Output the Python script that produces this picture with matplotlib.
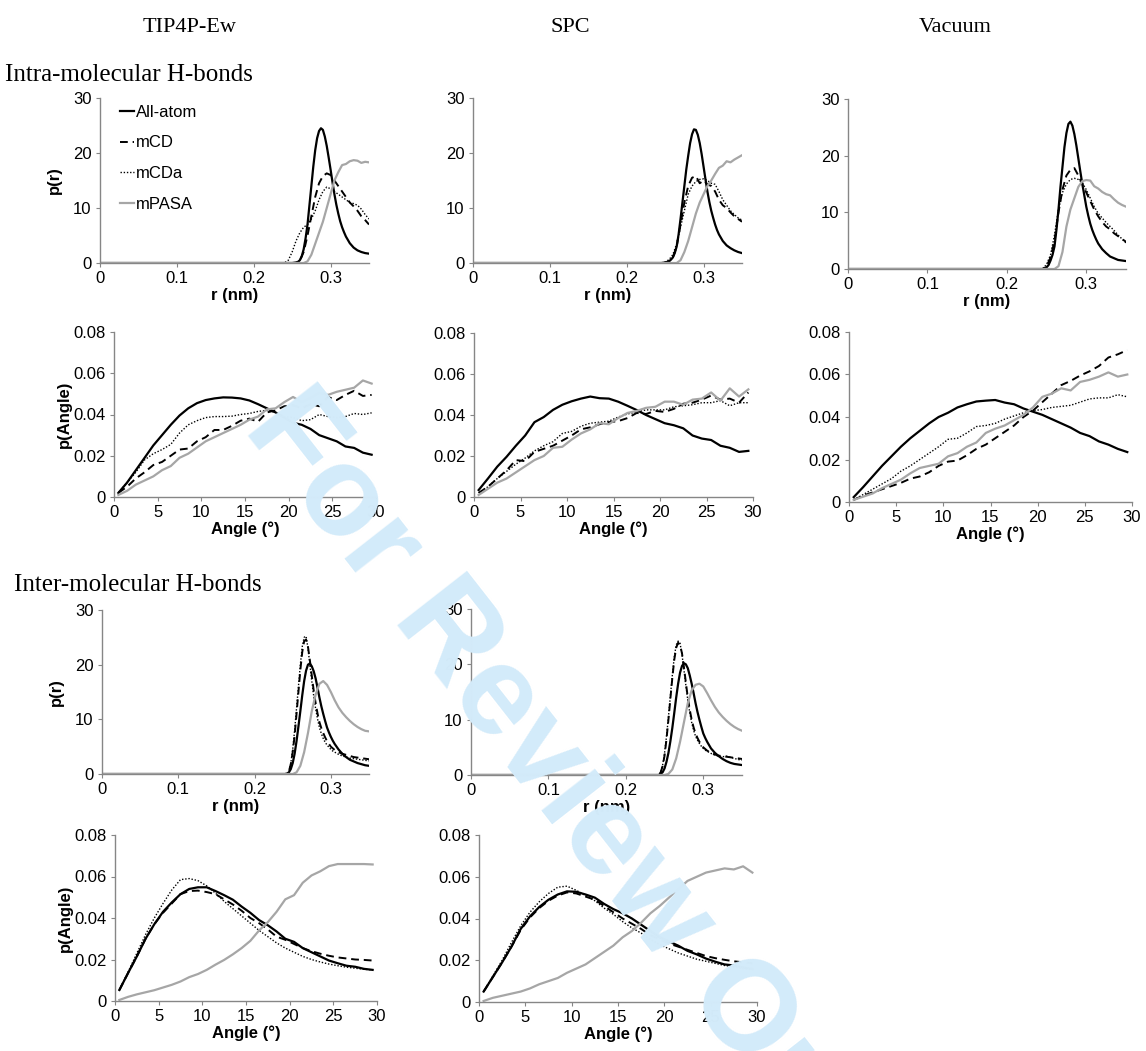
import matplotlib
matplotlib.use("Agg")
import matplotlib.pyplot as plt

plt.rcParams['font.family'] = ['Liberation Sans', 'DejaVu Sans']

# ---- x grids ----
R_NM = [0, 0.24, 0.245, 0.25, 0.255, 0.26, 0.265, 0.27, 0.275, 0.28, 0.285, 0.29,
        0.295, 0.30, 0.305, 0.31, 0.315, 0.32, 0.325, 0.33, 0.335, 0.34, 0.345, 0.35]
# finer grid for the sharp peaks
R_FINE = [0, 0.24, 0.2425, 0.245, 0.2475, 0.25, 0.2525, 0.255, 0.2575, 0.26, 0.2625, 0.265, 0.2675,
          0.27, 0.2725, 0.275, 0.2775, 0.28, 0.2825, 0.285, 0.2875, 0.29, 0.2925, 0.295, 0.2975,
          0.30, 0.3025, 0.305, 0.3075, 0.31, 0.3125, 0.315, 0.3175, 0.32,
          0.325, 0.33, 0.335, 0.34, 0.345, 0.35]
ANGLE = [0.5, 1.5, 2.5, 3.5, 4.5, 5.5, 6.5, 7.5, 8.5, 9.5, 10.5, 11.5, 12.5, 13.5, 14.5,
         15.5, 16.5, 17.5, 18.5, 19.5, 20.5, 21.5, 22.5, 23.5, 24.5, 25.5, 26.5, 27.5, 28.5, 29.5]

SERIES = ['All-atom', 'mCD', 'mCDa', 'mPASA']
COLUMNS = ['TIP4P-Ew', 'SPC', 'Vacuum']
ROWS = ['Intra-molecular H-bonds', 'Inter-molecular H-bonds']

# ---- intra-molecular, distance ----
tip_intra_r_aa = [0, 0, 0, 0, 0, 0, 0.05, 0.1, 0.2, 0.5, 1.2, 2.5, 4.5, 7, 10.5, 14, 17.5, 20.5, 22.7, 24, 24.5,
                  24.2, 23, 21.3, 19.2, 17, 14.7, 12.5, 10.6, 9, 7.6, 6.5, 5.6, 4.8, 3.6, 2.8, 2.3, 2.0, 1.8, 1.7]
tip_intra_r_mcd = [0, 0, 0, 0, 0, 0.5, 2, 5, 8.5, 12, 14.5, 15.8, 16.3, 16, 15, 14, 13, 12, 11, 10.3, 9.5, 8.5, 7.8, 7]
tip_intra_r_mcda = [0, 0, 0.5, 2, 4, 5.5, 6.5, 7, 8, 9.5, 11.5, 13, 13.8, 13.5, 13, 12.5, 12, 11.5, 11, 10.8, 10.5, 9.8, 8.8, 8]
tip_intra_r_pasa = [0, 0, 0, 0, 0, 0, 0, 0.3, 1.5, 3.5, 5.5, 7.5, 10, 12.5, 15, 16.5, 17.8, 18, 18.5, 18.7, 18.6, 18.2, 18.4, 18.3]

spc_intra_r_aa = [0, 0, 0, 0, 0.05, 0.1, 0.2, 0.3, 0.6, 1, 1.8, 3, 5.2, 8, 11, 14, 17, 19.5, 21.8, 23.4, 24.3,
                  24.2, 23.3, 21.8, 19.8, 17.5, 15.2, 13, 11.1, 9.5, 8.2, 7, 6, 5.2, 4, 3.2, 2.7, 2.3, 2.0, 1.8]
spc_intra_r_mcd = [0, 0, 0, 0, 0.3, 1, 3, 7, 11, 14, 15.5, 15.8, 14.5, 15, 14.3, 14, 13, 11.5, 10.5, 10, 9.2, 8.5, 8, 7.5]
spc_intra_r_mcda = [0, 0, 0, 0.2, 0.6, 1.5, 3.5, 6.5, 9.5, 12.5, 14, 14.8, 15.2, 15.3, 15, 14.5, 14.3, 13, 11.5, 10.5, 9.5, 8.8, 8.2, 7.8]
spc_intra_r_pasa = [0, 0, 0, 0, 0, 0, 0, 0.5, 2, 4, 6.5, 9, 11, 12.5, 14, 15, 16.2, 17.3, 17.7, 18.5, 18.3, 18.8, 19.2, 19.6]

vac_intra_r_aa = [0, 0, 0, 0, 0.1, 0.3, 0.7, 1.5, 2.5, 4, 7, 10.5, 14.5, 18, 21.5, 24, 25.6, 26, 25.3, 23.8, 21.8,
                  19.5, 17.2, 15, 13, 11, 9.4, 8, 6.9, 6, 5.2, 4.5, 4, 3.5, 2.8, 2.2, 1.9, 1.6, 1.5, 1.4]
vac_intra_r_mcd = [0, 0, 0, 0.5, 2, 5, 10, 14, 16.5, 17.5, 17.8, 16.5, 15, 13.5, 12, 10.5, 9.3, 8.3, 7.5, 7, 6.3, 5.8, 5.3, 4.8]
vac_intra_r_mcda = [0, 0, 0, 0.8, 2.5, 6, 10.5, 13.5, 15, 15.8, 16, 15.8, 15.2, 14, 12.5, 11, 9.8, 9, 8.2, 7.5, 6.8, 6, 5.3, 4.6]
vac_intra_r_pasa = [0, 0, 0, 0, 0, 0, 0.5, 3, 7.5, 10.5, 12.5, 14.5, 15.5, 15.7, 15.6, 14.6, 14.2, 13.6, 13.2, 13.0, 12.3, 11.7, 11.3, 11]

# ---- intra-molecular, angle ----
tip_intra_a_aa = [0.002, 0.007, 0.013, 0.019, 0.025, 0.030, 0.035, 0.0395, 0.043, 0.0455, 0.047, 0.0478, 0.0483, 0.0482, 0.0478,
                  0.0468, 0.045, 0.043, 0.041, 0.0385, 0.036, 0.035, 0.033, 0.030, 0.0285, 0.027, 0.0245, 0.0238, 0.0215, 0.0205]
tip_intra_a_mcd = [0.002, 0.005, 0.009, 0.012, 0.0155, 0.017, 0.020, 0.023, 0.0235, 0.027, 0.029, 0.0325, 0.0325, 0.0345, 0.037,
                   0.038, 0.0365, 0.041, 0.042, 0.044, 0.0445, 0.043, 0.045, 0.044, 0.0485, 0.047, 0.0495, 0.0515, 0.049, 0.0495]
tip_intra_a_mcda = [0.002, 0.007, 0.012, 0.018, 0.021, 0.023, 0.0255, 0.031, 0.035, 0.037, 0.0385, 0.039, 0.039, 0.0392, 0.040,
                    0.0405, 0.0415, 0.042, 0.041, 0.039, 0.0385, 0.037, 0.0375, 0.040, 0.039, 0.0385, 0.039, 0.0405, 0.040, 0.0408]
tip_intra_a_pasa = [0.001, 0.003, 0.006, 0.008, 0.010, 0.013, 0.015, 0.019, 0.021, 0.024, 0.027, 0.029, 0.031, 0.033, 0.035,
                    0.0375, 0.039, 0.0425, 0.043, 0.046, 0.0485, 0.046, 0.048, 0.0505, 0.0495, 0.051, 0.052, 0.053, 0.0565, 0.055]

spc_intra_a_aa = [0.0034, 0.009, 0.0148, 0.0196, 0.025, 0.030, 0.0365, 0.039, 0.0425, 0.045, 0.0467, 0.048, 0.049, 0.0482, 0.048,
                  0.0465, 0.0445, 0.0424, 0.040, 0.038, 0.036, 0.035, 0.0335, 0.030, 0.0285, 0.0278, 0.025, 0.024, 0.022, 0.0225]
spc_intra_a_mcd = [0.002, 0.005, 0.009, 0.013, 0.018, 0.0175, 0.022, 0.0235, 0.025, 0.0275, 0.030, 0.033, 0.034, 0.0355, 0.0365,
                   0.037, 0.0385, 0.041, 0.0405, 0.042, 0.0415, 0.043, 0.0455, 0.046, 0.0475, 0.0495, 0.0475, 0.048, 0.046, 0.051]
spc_intra_a_mcda = [0.002, 0.005, 0.009, 0.0125, 0.016, 0.019, 0.0225, 0.025, 0.027, 0.031, 0.032, 0.0345, 0.036, 0.0365, 0.037,
                    0.039, 0.0405, 0.0415, 0.0425, 0.0425, 0.0425, 0.044, 0.0445, 0.045, 0.046, 0.046, 0.047, 0.0445, 0.046, 0.046]
spc_intra_a_pasa = [0.001, 0.004, 0.007, 0.009, 0.012, 0.015, 0.018, 0.020, 0.024, 0.0245, 0.028, 0.031, 0.033, 0.036, 0.0355,
                    0.0385, 0.041, 0.042, 0.0435, 0.044, 0.0465, 0.0465, 0.045, 0.0475, 0.048, 0.051, 0.047, 0.053, 0.049, 0.0525]

vac_intra_a_aa = [0.0023, 0.007, 0.012, 0.017, 0.0215, 0.026, 0.030, 0.0335, 0.037, 0.040, 0.042, 0.0445, 0.046, 0.0473, 0.0477,
                  0.048, 0.0468, 0.046, 0.044, 0.0425, 0.041, 0.039, 0.037, 0.035, 0.0325, 0.031, 0.0285, 0.027, 0.025, 0.0235]
vac_intra_a_mcd = [0.001, 0.003, 0.0045, 0.006, 0.0075, 0.009, 0.011, 0.012, 0.014, 0.017, 0.019, 0.0195, 0.022, 0.025, 0.027,
                   0.030, 0.033, 0.036, 0.040, 0.043, 0.047, 0.051, 0.055, 0.057, 0.0595, 0.0615, 0.064, 0.068, 0.0695, 0.0715]
vac_intra_a_mcda = [0.001, 0.0035, 0.006, 0.0085, 0.011, 0.0145, 0.017, 0.020, 0.023, 0.026, 0.0295, 0.030, 0.0325, 0.0355, 0.036,
                    0.037, 0.039, 0.0405, 0.042, 0.043, 0.0435, 0.0445, 0.045, 0.0455, 0.047, 0.0485, 0.049, 0.049, 0.0505, 0.0495]
vac_intra_a_pasa = [0.001, 0.0025, 0.004, 0.0065, 0.0085, 0.0105, 0.0135, 0.016, 0.017, 0.018, 0.0215, 0.023, 0.026, 0.028, 0.0325,
                    0.0345, 0.036, 0.0385, 0.041, 0.0445, 0.0495, 0.051, 0.0535, 0.0525, 0.0565, 0.0575, 0.059, 0.061, 0.059, 0.060]

# ---- inter-molecular, distance ----
tip_inter_r_aa = [0, 0, 0.05, 0.3, 0.9, 2, 3.7, 6, 8.7, 11.5, 14.4, 17, 18.9, 20, 20.2, 19.7, 18.8, 17.5, 15.8, 14, 12.4,
                  11, 9.7, 8.5, 7.6, 6.8, 6.1, 5.5, 5, 4.5, 4.1, 3.7, 3.4, 3.1, 2.6, 2.3, 2.0, 1.8, 1.6, 1.5]
tip_inter_r_mcd = [0, 0, 0.1, 0.5, 1.8, 4, 7, 11, 15, 19, 22.3, 24.3, 24.6, 23.3, 20.8, 18, 15.3, 13, 11.1, 9.5, 8.4,
                   7.5, 6.7, 6, 5.5, 5, 4.7, 4.4, 4.2, 4, 3.85, 3.7, 3.6, 3.5, 3.3, 3.1, 3.0, 2.9, 2.8, 2.7]
tip_inter_r_mcda = [0, 0, 0.1, 0.5, 2, 4.5, 8, 12, 16, 20, 23.3, 25, 25.2, 23, 20, 17, 14.3, 12, 10.1, 8.5, 7.4,
                    6.5, 5.8, 5.3, 4.9, 4.5, 4.2, 4, 3.8, 3.6, 3.45, 3.3, 3.2, 3.1, 2.9, 2.8, 2.7, 2.6, 2.5, 2.4]
tip_inter_r_pasa = [0, 0, 0, 0, 0.3, 1.5, 4, 7.5, 11.5, 14.5, 16.5, 17, 16.3, 15, 13.5, 12.2, 11.2, 10.4, 9.7, 9.1, 8.6, 8.2, 7.9, 7.8]

spc_inter_r_aa = [0, 0, 0, 0.2, 0.5, 1.2, 2.4, 4, 6.1, 8.5, 11.2, 14, 16.5, 18.5, 19.7, 20.2, 20, 19.3, 18, 16.5, 14.8,
                  13, 11.4, 10, 8.7, 7.5, 6.7, 6, 5.4, 4.8, 4.4, 4, 3.7, 3.4, 2.9, 2.5, 2.2, 2.0, 1.9, 1.8]
spc_inter_r_mcd = [0, 0, 0.1, 0.5, 1.6, 3.5, 6.5, 10, 13.8, 17.5, 20.8, 23, 23.9, 23.5, 22, 19.5, 16.7, 14, 11.8, 10, 8.6,
                   7.5, 6.7, 6, 5.5, 5, 4.7, 4.4, 4.2, 4, 3.85, 3.7, 3.6, 3.5, 3.4, 3.3, 3.2, 3.1, 3.0, 2.9]
spc_inter_r_mcda = [0, 0, 0.1, 0.5, 1.8, 4, 7, 10.5, 14.3, 18, 21.3, 23.5, 24.2, 23.8, 21.8, 19, 16.2, 13.5, 11.3, 9.5, 8.1,
                    7, 6.3, 5.7, 5.2, 4.8, 4.5, 4.3, 4.1, 3.9, 3.75, 3.6, 3.5, 3.4, 3.3, 3.4, 3.2, 3.0, 2.8, 2.7]
spc_inter_r_pasa = [0, 0, 0, 0, 0.2, 1, 3, 6, 9.5, 13, 15.3, 16.3, 16.5, 16, 14.8, 13.5, 12.3, 11.3, 10.5, 9.8, 9.2, 8.7, 8.3, 8]

# ---- inter-molecular, angle ----
tip_inter_a_aa = [0.0053, 0.0135, 0.0215, 0.030, 0.037, 0.043, 0.0475, 0.0515, 0.054, 0.0548, 0.0548, 0.053, 0.051, 0.0488, 0.0455,
                  0.0425, 0.039, 0.0365, 0.0335, 0.030, 0.0285, 0.0255, 0.0235, 0.0215, 0.0195, 0.0182, 0.017, 0.0165, 0.0155, 0.015]
tip_inter_a_mcd = [0.0053, 0.0135, 0.0215, 0.030, 0.037, 0.0425, 0.047, 0.0515, 0.053, 0.0532, 0.0525, 0.0515, 0.049, 0.0465, 0.0435,
                   0.040, 0.0375, 0.0345, 0.031, 0.0295, 0.0275, 0.0255, 0.024, 0.0228, 0.0218, 0.021, 0.0205, 0.020, 0.0198, 0.0195]
tip_inter_a_mcda = [0.0055, 0.014, 0.023, 0.032, 0.040, 0.047, 0.0535, 0.0585, 0.059, 0.058, 0.0555, 0.052, 0.048, 0.0445, 0.041,
                    0.0375, 0.034, 0.031, 0.028, 0.0255, 0.0235, 0.0215, 0.020, 0.0188, 0.0178, 0.017, 0.0163, 0.0158, 0.0153, 0.015]
tip_inter_a_pasa = [0.0005, 0.002, 0.0032, 0.0042, 0.0052, 0.0065, 0.0078, 0.0094, 0.0115, 0.013, 0.015, 0.0175, 0.0198, 0.0225, 0.0255,
                    0.029, 0.034, 0.038, 0.043, 0.049, 0.051, 0.057, 0.0605, 0.0625, 0.065, 0.066, 0.066, 0.066, 0.066, 0.0658]

spc_inter_a_aa = [0.005, 0.012, 0.019, 0.0265, 0.035, 0.041, 0.0455, 0.049, 0.0515, 0.053, 0.0528, 0.0515, 0.050, 0.047, 0.0445,
                  0.0425, 0.040, 0.037, 0.034, 0.031, 0.029, 0.027, 0.0245, 0.0228, 0.0208, 0.0193, 0.018, 0.0175, 0.0165, 0.0158]
spc_inter_a_mcd = [0.005, 0.012, 0.019, 0.0265, 0.0345, 0.0405, 0.045, 0.0485, 0.051, 0.0525, 0.052, 0.0505, 0.049, 0.046, 0.043,
                   0.040, 0.0375, 0.035, 0.032, 0.030, 0.028, 0.0265, 0.025, 0.0235, 0.022, 0.021, 0.0202, 0.0195, 0.019, 0.0185]
spc_inter_a_mcda = [0.005, 0.0125, 0.020, 0.0285, 0.0365, 0.043, 0.048, 0.052, 0.055, 0.0555, 0.0535, 0.051, 0.0485, 0.045, 0.042,
                    0.0385, 0.0355, 0.033, 0.030, 0.0275, 0.0255, 0.0235, 0.022, 0.0205, 0.0195, 0.0185, 0.0175, 0.0168, 0.016, 0.0155]
spc_inter_a_pasa = [0.0005, 0.002, 0.003, 0.004, 0.005, 0.0065, 0.0085, 0.010, 0.0115, 0.014, 0.016, 0.018, 0.021, 0.024, 0.027,
                    0.031, 0.034, 0.038, 0.0425, 0.046, 0.050, 0.054, 0.058, 0.060, 0.062, 0.063, 0.064, 0.0635, 0.065, 0.062]

# line look of each series
STYLE = {
    'All-atom': dict(color='black', lw=1.6, ls='-'),
    'mCD': dict(color='black', lw=1.4, ls=(0, (4, 2.5))),
    'mCDa': dict(color='black', lw=1.0, ls=(0, (1, 1.3))),
    'mPASA': dict(color='#a6a6a6', lw=1.6, ls='-'),
}

W, H = 1146, 1051
fig = plt.figure(figsize=(W / 100, H / 100), dpi=100)
fig.patch.set_facecolor('white')

# watermark behind everything
fig.text(242 / W, 1 - 428 / H, 'For Review Only', rotation=-52, rotation_mode='anchor',
         ha='left', va='baseline', fontsize=92, fontweight='bold', color='#d3ebfa', zorder=0)


def px_rect(l, r, t, b):
    return [l / W, 1 - b / H, (r - l) / W, (b - t) / H]


def panel(rect, xs, curves, kind, ylabel=False, legend=False):
    ax = fig.add_axes(px_rect(*rect))
    ax.set_facecolor('none')
    for name, x, y in zip(SERIES, xs, curves):
        ax.plot(x, y, label=name, solid_joinstyle='round', **STYLE[name])
    for s in ['top', 'right']:
        ax.spines[s].set_visible(False)
    for s in ['left', 'bottom']:
        ax.spines[s].set_color('#868686')
        ax.spines[s].set_linewidth(1.0)
    ax.tick_params(direction='out', length=3, width=0.8, color='#868686',
                   labelsize=12, pad=3)
    if kind == 'r':
        ax.set_xlim(0, 0.35)
        ax.set_ylim(0, 30)
        ax.set_xticks([0, 0.1, 0.2, 0.3])
        ax.set_xticklabels(['0', '0.1', '0.2', '0.3'])
        ax.set_yticks([0, 10, 20, 30])
        ax.set_xlabel('r (nm)', fontsize=12, fontweight='bold', labelpad=1)
        if ylabel:
            ax.set_ylabel('p(r)', fontsize=12, fontweight='bold', labelpad=8)
    else:
        ax.set_xlim(0, 30)
        ax.set_ylim(0, 0.08)
        ax.set_xticks([0, 5, 10, 15, 20, 25, 30])
        ax.set_yticks([0, 0.02, 0.04, 0.06, 0.08])
        ax.set_yticklabels(['0', '0.02', '0.04', '0.06', '0.08'])
        ax.set_xlabel('Angle (°)', fontsize=12, fontweight='bold', labelpad=1)
        if ylabel:
            ax.set_ylabel('p(Angle)', fontsize=12, fontweight='bold', labelpad=1)
    if legend:
        ax.legend(loc='upper left', bbox_to_anchor=(0.075, 0.96), frameon=False,
                  fontsize=12, handlelength=0.8, handletextpad=0.15,
                  labelspacing=0.95, borderpad=0, borderaxespad=0)
    return ax


FCCC = [R_FINE, R_NM, R_NM, R_NM]    # only All-atom on the fine grid
FFFC = [R_FINE, R_FINE, R_FINE, R_NM]
AAAA = [ANGLE] * 4

# intra-molecular
panel((100, 369, 98, 263), FCCC, [tip_intra_r_aa, tip_intra_r_mcd, tip_intra_r_mcda, tip_intra_r_pasa],
      'r', ylabel=True, legend=True)
panel((473, 742, 98, 263), FCCC, [spc_intra_r_aa, spc_intra_r_mcd, spc_intra_r_mcda, spc_intra_r_pasa], 'r')
panel((848, 1126, 99, 269), FCCC, [vac_intra_r_aa, vac_intra_r_mcd, vac_intra_r_mcda, vac_intra_r_pasa], 'r')
panel((114, 376, 332, 497), AAAA, [tip_intra_a_aa, tip_intra_a_mcd, tip_intra_a_mcda, tip_intra_a_pasa],
      'a', ylabel=True)
panel((474, 753, 333, 497), AAAA, [spc_intra_a_aa, spc_intra_a_mcd, spc_intra_a_mcda, spc_intra_a_pasa], 'a')
panel((849, 1132, 332, 502), AAAA, [vac_intra_a_aa, vac_intra_a_mcd, vac_intra_a_mcda, vac_intra_a_pasa], 'a')

# inter-molecular
panel((102, 369, 610, 774), FFFC, [tip_inter_r_aa, tip_inter_r_mcd, tip_inter_r_mcda, tip_inter_r_pasa],
      'r', ylabel=True)
panel((471, 742, 609, 775), FFFC, [spc_inter_r_aa, spc_inter_r_mcd, spc_inter_r_mcda, spc_inter_r_pasa], 'r')
panel((115, 377, 835, 1001), AAAA, [tip_inter_a_aa, tip_inter_a_mcd, tip_inter_a_mcda, tip_inter_a_pasa],
      'a', ylabel=True)
panel((479, 757, 835, 1002), AAAA, [spc_inter_a_aa, spc_inter_a_mcd, spc_inter_a_mcda, spc_inter_a_pasa], 'a')

# column headers and row captions
serif = ['Liberation Serif', 'DejaVu Serif']
for name, xc in zip(COLUMNS, [190, 570, 955]):
    fig.text(xc / W, 1 - 28 / H, name, ha='center', va='center', fontsize=16, family=serif)
fig.text(5 / W, 1 - 75 / H, ROWS[0], ha='left', va='center', fontsize=18, family=serif)
fig.text(14 / W, 1 - 585 / H, ROWS[1], ha='left', va='center', fontsize=18, family=serif)

fig.savefig('out.png', dpi=100)
